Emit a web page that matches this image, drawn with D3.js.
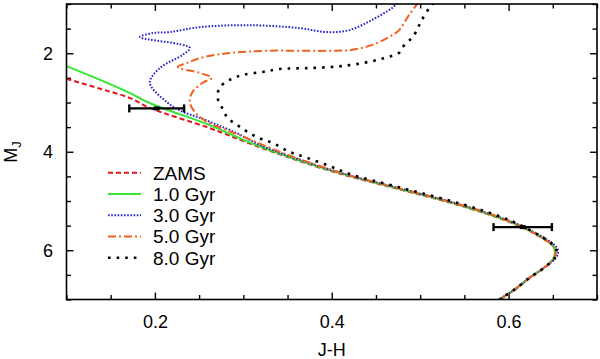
<!DOCTYPE html>
<html><head><meta charset="utf-8">
<script src="https://cdn.jsdelivr.net/npm/d3@7"></script>
<style>
body{margin:0;background:#fff}
svg{display:block}
text{font-family:"Liberation Sans",Arial,Helvetica,sans-serif;fill:#000}
</style>
</head><body>
<svg id="c" width="600" height="359"></svg>
<script>
// ---- data (J-H colour, M_J magnitude) ----
const zamsJH = [0.1, 0.138, 0.172, 0.194, 0.262, 0.307, 0.3635, 0.4199, 0.4762, 0.5446, 0.5897, 0.6123, 0.6348, 0.6495, 0.6528, 0.6517, 0.6404, 0.6235, 0.6066, 0.5913, 0.5834];
const zamsMJ = [2.52, 2.72, 2.91, 3.11, 3.52, 3.83, 4.19, 4.50, 4.76, 5.09, 5.35, 5.51, 5.72, 5.90, 6.00, 6.16, 6.36, 6.57, 6.81, 6.99, 7.12];

const g1JH = [0.1, 0.138, 0.172, 0.194, 0.262, 0.307, 0.3635, 0.4199, 0.4762, 0.5446, 0.5897, 0.6123, 0.6348, 0.6495, 0.6520, 0.6510, 0.6404, 0.6235, 0.6066, 0.5913, 0.5834];
const g1MJ = [2.26, 2.54, 2.81, 3.01, 3.46, 3.81, 4.18, 4.49, 4.75, 5.08, 5.34, 5.50, 5.71, 5.89, 5.99, 6.15, 6.35, 6.56, 6.80, 6.98, 7.11];

const g3JH = [0.474, 0.4683, 0.4458, 0.4199, 0.3939, 0.3635, 0.307, 0.2507, 0.2168, 0.1977, 0.183, 0.2394, 0.2315, 0.2056, 0.1943, 0.2134, 0.2315, 0.2507, 0.2699, 0.2924, 0.3184, 0.3635, 0.4199, 0.4762, 0.5446, 0.5897, 0.6123, 0.6348, 0.6510, 0.6560, 0.6540, 0.6404, 0.6235, 0.6066, 0.5913, 0.5834];
const g3MJ = [0.98, 1.08, 1.32, 1.53, 1.57, 1.49, 1.43, 1.47, 1.57, 1.59, 1.67, 1.89, 2.03, 2.30, 2.60, 2.99, 3.19, 3.31, 3.45, 3.62, 3.86, 4.16, 4.48, 4.74, 5.07, 5.33, 5.49, 5.69, 5.88, 6.00, 6.14, 6.35, 6.56, 6.80, 6.98, 7.11];

const g5JH = [0.4985, 0.4875, 0.4762, 0.4649, 0.4458, 0.4233, 0.4007, 0.3262, 0.2879, 0.2698, 0.2507, 0.2359, 0.2258, 0.2507, 0.2642, 0.254, 0.2427, 0.2394, 0.245, 0.2586, 0.2811, 0.3037, 0.3218, 0.3409, 0.3714, 0.4199, 0.4762, 0.5446, 0.5897, 0.6123, 0.6348, 0.6500, 0.6530, 0.6517, 0.6404, 0.6235, 0.6066, 0.5913, 0.5834];
const g5MJ = [0.96, 1.22, 1.53, 1.67, 1.83, 1.93, 1.95, 1.95, 1.99, 2.03, 2.10, 2.20, 2.28, 2.40, 2.50, 2.60, 2.78, 2.99, 3.19, 3.39, 3.56, 3.72, 3.86, 4.00, 4.20, 4.48, 4.74, 5.07, 5.33, 5.50, 5.71, 5.90, 6.00, 6.15, 6.35, 6.56, 6.80, 6.98, 7.11];

const g8JH = [0.5157, 0.513, 0.502, 0.4931, 0.4795, 0.4762, 0.4627, 0.4458, 0.4119, 0.3758, 0.3409, 0.3218, 0.2992, 0.2845, 0.2732, 0.271, 0.2755, 0.2822, 0.2958, 0.315, 0.333, 0.3522, 0.3714, 0.3974, 0.4199, 0.4762, 0.5446, 0.5897, 0.6123, 0.6348, 0.6505, 0.6540, 0.6525, 0.6404, 0.6235, 0.6066, 0.5913, 0.5834];
const g8MJ = [0.98, 1.02, 1.32, 1.63, 1.89, 1.99, 2.08, 2.16, 2.26, 2.30, 2.32, 2.38, 2.44, 2.54, 2.70, 2.91, 3.09, 3.31, 3.49, 3.70, 3.82, 4.00, 4.12, 4.29, 4.45, 4.72, 5.05, 5.31, 5.48, 5.70, 5.89, 6.00, 6.15, 6.35, 6.56, 6.80, 6.98, 7.11];

const seriesNames = ["ZAMS", "1.0 Gyr", "3.0 Gyr", "5.0 Gyr", "8.0 Gyr"];

const errJH = [0.202, 0.616];
const errMJ = [3.12, 5.53];
const errDJH = [0.031, 0.033];

const xMajor = [0.2, 0.4, 0.6];
const xMinor = [0.1, 0.15, 0.25, 0.3, 0.35, 0.45, 0.5, 0.55, 0.65, 0.7];
const yMajor = [2, 4, 6];
const yMinor = [1, 1.5, 2.5, 3, 3.5, 4.5, 5, 5.5, 6.5, 7];

// ---- styles ----
const styles = [
  {color:"#e8141c", width:2, dash:"5,3"},
  {color:"#33e633", width:2, dash:null},
  {color:"#2626c8", width:2, dash:"1.6,1.6"},
  {color:"#f0601e", width:2, dash:"8,3,2,3"},
  {color:"#000000", width:2.6, dash:"2.6,6"}
];

const svg = d3.select("#c");
const L = 66.5, R = 597, T = 4, B = 299.5;
const x = d3.scaleLinear().domain([0.1, 0.7]).range([L, R]);
const y = d3.scaleLinear().domain([1, 7]).range([T, B]);

svg.append("rect").attr("width",600).attr("height",359).attr("fill","#fff");

svg.append("defs").append("clipPath").attr("id","clip")
  .append("rect").attr("x",L).attr("y",T).attr("width",R-L).attr("height",B-T);

const tickG = svg.append("g").attr("stroke-width",1.4);
function axisSet(gen, tr, vals, size, pad, fmt){
  const g = tickG.append("g").attr("transform", tr)
    .call(gen.tickValues(vals).tickSize(-size).tickSizeOuter(0).tickPadding(pad).tickFormat(fmt));
  g.select(".domain").remove();
  g.selectAll("line").attr("stroke","#000").attr("stroke-width",1.4);
  g.selectAll("text").attr("font-size",18).attr("font-family",'"Liberation Sans",Arial,Helvetica,sans-serif').attr("fill","#000");
  return g;
}
const f1 = d3.format(".1f"), fInt = d3.format("d"), none = () => "";
axisSet(d3.axisBottom(x), `translate(0,${B})`, xMajor, 7, 15.5, f1);
axisSet(d3.axisBottom(x), `translate(0,${B})`, xMinor, 4.5, 0, none);
axisSet(d3.axisTop(x), `translate(0,${T})`, xMajor, 7, 0, none);
axisSet(d3.axisTop(x), `translate(0,${T})`, xMinor, 4.5, 0, none);
axisSet(d3.axisLeft(y), `translate(${L},0)`, yMajor, 7, 13.5, fInt);
axisSet(d3.axisLeft(y), `translate(${L},0)`, yMinor, 4.5, 0, none);
axisSet(d3.axisRight(y), `translate(${R},0)`, yMajor, 7, 0, none);
axisSet(d3.axisRight(y), `translate(${R},0)`, yMinor, 4.5, 0, none);

// ---- curves ----
const seriesData = [
  d3.zip(zamsJH, zamsMJ), d3.zip(g1JH, g1MJ), d3.zip(g3JH, g3MJ),
  d3.zip(g5JH, g5MJ), d3.zip(g8JH, g8MJ)
];
const line = d3.line().x(d => x(d[0])).y(d => y(d[1])).curve(d3.curveCatmullRom.alpha(0.5));
const plot = svg.append("g").attr("clip-path","url(#clip)");
seriesData.forEach((pts, i) => {
  const s = styles[i];
  plot.append("path").datum(pts).attr("d", line)
    .attr("fill","none").attr("stroke", s.color).attr("stroke-width", s.width)
    .attr("stroke-dasharray", s.dash).attr("stroke-linejoin","round");
});

// ---- error bars ----
const eb = svg.append("g").attr("stroke","#000");
errJH.forEach((v, i) => {
  const cy = y(errMJ[i]), x0 = x(v - errDJH[i]), x1 = x(v + errDJH[i]);
  eb.append("line").attr("x1",x0).attr("x2",x1).attr("y1",cy).attr("y2",cy).attr("stroke-width",2.4);
  eb.append("line").attr("x1",x0).attr("x2",x0).attr("y1",cy-4).attr("y2",cy+4).attr("stroke-width",2.4);
  eb.append("line").attr("x1",x1).attr("x2",x1).attr("y1",cy-4).attr("y2",cy+4).attr("stroke-width",2.4);
  eb.append("rect").attr("x",x(v)-3).attr("y",cy-2).attr("width",6).attr("height",4).attr("fill","#000").attr("stroke","none");
});

// ---- frame ----
svg.append("rect").attr("x",L).attr("y",T).attr("width",R-L).attr("height",B-T)
  .attr("fill","none").attr("stroke","#000").attr("stroke-width",1.6);

// ---- legend ----
const lg = svg.append("g");
const rowY = d3.scalePoint().domain(seriesNames).range([172.7, 257.7]);
seriesNames.forEach((n, i) => {
  const s = styles[i], yy = rowY(n);
  lg.append("line").attr("x1",108).attr("x2",141).attr("y1",yy).attr("y2",yy)
    .attr("stroke",s.color).attr("stroke-width",s.width).attr("stroke-dasharray",s.dash);
  lg.append("text").attr("x",153).attr("y",yy).attr("dy","0.36em").attr("font-size",19).text(n);
});

// ---- axis titles ----
svg.append("text").attr("x",(L+R)/2).attr("y",356).attr("text-anchor","middle").attr("font-size",18).text("J-H");
const yt = svg.append("text").attr("transform",`translate(17,152) rotate(-90)`).attr("text-anchor","middle").attr("font-size",18);
yt.append("tspan").text("M");
yt.append("tspan").attr("font-size",13).attr("dy",4).text("J");
</script>
</body></html>
